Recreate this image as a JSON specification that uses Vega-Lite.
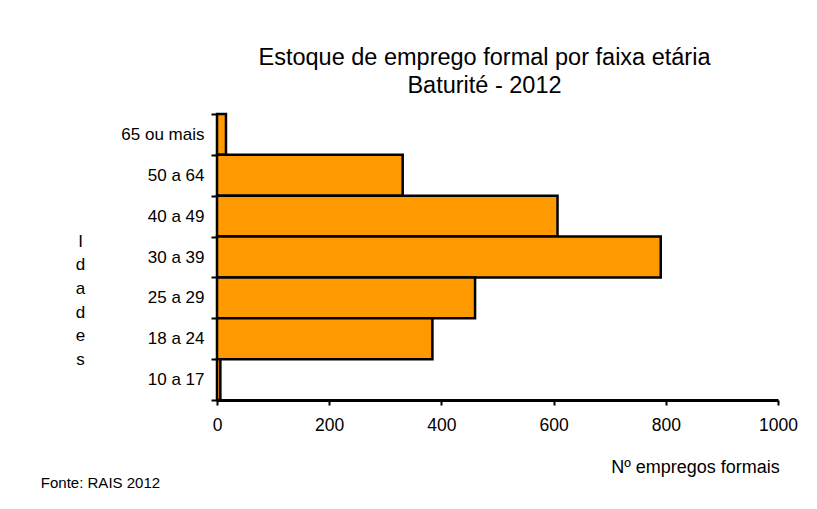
{
  "$schema": "https://vega.github.io/schema/vega-lite/v6.json",
  "width": 561,
  "height": 286,
  "autosize": {"type": "none"},
  "padding": {"left": 217, "top": 114, "right": 39, "bottom": 109},
  "background": "white",
  "config": {
    "font": "Liberation Sans",
    "view": {"stroke": null}
  },
  "title": {
    "text": ["Estoque de emprego formal por faixa etária", "Baturité - 2012"],
    "font": "Liberation Sans",
    "fontSize": 23.5,
    "fontWeight": "normal",
    "lineHeight": 28,
    "anchor": "middle",
    "baseline": "top",
    "offset": 8,
    "dx": -13,
    "color": "black"
  },
  "data": {
    "values": [
      {"faixa": "65 ou mais", "empregos": 16, "nota": "Fonte: RAIS 2012"},
      {"faixa": "50 a 64", "empregos": 331, "nota": ""},
      {"faixa": "40 a 49", "empregos": 607, "nota": ""},
      {"faixa": "30 a 39", "empregos": 791, "nota": ""},
      {"faixa": "25 a 29", "empregos": 460, "nota": ""},
      {"faixa": "18 a 24", "empregos": 384, "nota": ""},
      {"faixa": "10 a 17", "empregos": 6, "nota": ""}
    ]
  },
  "layer": [
    {
      "mark": {"type": "bar", "fill": "#ff9900", "stroke": "black", "strokeWidth": 2.5},
      "encoding": {
        "y": {
          "field": "faixa",
          "type": "nominal",
          "sort": null,
          "scale": {"paddingInner": 0, "paddingOuter": 0},
          "axis": {
            "title": ["I", "d", "a", "d", "e", "s"],
            "titleAngle": 0,
            "titleFontSize": 17,
            "titleFontWeight": "normal",
            "titleLineHeight": 23.7,
            "titleBaseline": "top",
            "titleAlign": "center",
            "titleX": -137,
            "titleY": 119,
            "titleColor": "black",
            "labelFontSize": 17,
            "labelColor": "black",
            "labelPadding": 7,
            "tickBand": "extent",
            "ticks": true,
            "tickSize": 6,
            "tickWidth": 2,
            "tickColor": "black",
            "domainColor": "black",
            "domainWidth": 3
          }
        },
        "x": {
          "field": "empregos",
          "type": "quantitative",
          "scale": {"domain": [0, 1000], "nice": false},
          "axis": {
            "values": [0, 200, 400, 600, 800, 1000],
            "format": "d",
            "labelFlush": false,
            "title": "Nº empregos formais",
            "titleFontSize": 18,
            "titleFontWeight": "normal",
            "titleColor": "black",
            "titleAnchor": "end",
            "titleAlign": "center",
            "titleX": 478,
            "titleY": 58,
            "labelFontSize": 17.5,
            "labelColor": "black",
            "labelPadding": 11,
            "tickSize": 5,
            "tickWidth": 2,
            "tickColor": "black",
            "domainColor": "black",
            "domainWidth": 3,
            "grid": false
          }
        }
      }
    },
    {
      "mark": {"type": "text", "align": "left", "baseline": "middle", "fontSize": 15, "dy": 103, "clip": false, "letterSpacing": -0.6},
      "encoding": {
        "text": {"field": "nota"},
        "x": {"datum": -314, "type": "quantitative"},
        "y": {"datum": "10 a 17", "type": "nominal"}
      }
    }
  ]
}
